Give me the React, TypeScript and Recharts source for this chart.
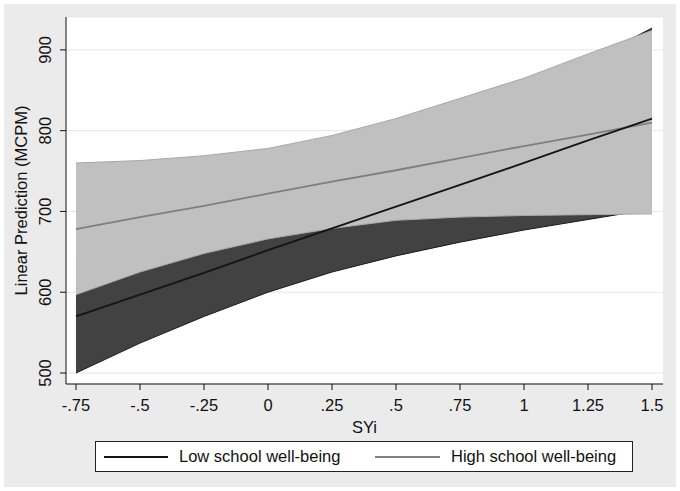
import React from 'react';
import {
  ComposedChart,
  Area,
  Line,
  XAxis,
  YAxis,
  CartesianGrid,
} from 'recharts';

// SYi evaluation points
const syValues = [-0.75, -0.5, -0.25, 0, 0.25, 0.5, 0.75, 1, 1.25, 1.5];

// Low school well-being: fit + 95% CI
const lowFit = [570, 597, 624, 652, 679, 706, 733, 760, 788, 815];
const lowLower = [500, 537, 570, 600, 625, 645, 662, 677, 690, 703];
const lowUpper = [640, 657, 678, 704, 733, 767, 804, 843, 886, 927];

// High school well-being: fit + 95% CI
const highFit = [678, 693, 707, 722, 737, 751, 766, 781, 795, 810];
const highLower = [597, 625, 648, 666, 679, 689, 693, 695, 696, 697];
const highUpper = [760, 763, 769, 778, 794, 815, 840, 865, 895, 924];

const xTicks = [-0.75, -0.5, -0.25, 0, 0.25, 0.5, 0.75, 1, 1.25, 1.5];
const yTicks = [500, 600, 700, 800, 900];

const FONT = '"Liberation Sans", Arial, sans-serif';
const FS = 16.5;

const data = syValues.map((sy, i) => ({
  sy,
  lowBand: [lowLower[i], lowUpper[i]],
  highBand: [highLower[i], highUpper[i]],
  lowFit: lowFit[i],
  highFit: highFit[i],
}));

const fmtX = (v: number) => String(v).replace('0.', '.');

const YTick = ({ x, y, payload }: any) => (
  <text
    x={x}
    y={y}
    transform={`rotate(-90 ${x} ${y})`}
    textAnchor="middle"
    dy="0.35em"
    fontSize={FS}
    fontFamily={FONT}
    fill="#111"
  >
    {payload.value}
  </text>
);

const XTick = ({ x, y, payload }: any) => (
  <text x={x} y={y} textAnchor="middle" dy="0.71em" fontSize={FS} fontFamily={FONT} fill="#111">
    {fmtX(payload.value)}
  </text>
);

export default function App() {
  return (
    <div style={{ position: 'absolute', left: 0, top: 0, width: 680, height: 491, background: '#fff' }}>
      <div style={{ position: 'absolute', left: 4, top: 4, width: 672, height: 483, background: '#ebebeb' }}>
        <ComposedChart
          width={672}
          height={483}
          data={data}
          margin={{ top: 13, right: 13, bottom: 53, left: 12 }}
        >
          <CartesianGrid vertical={false} stroke="#e6e6e6" fill="#ffffff" />
          <XAxis
            type="number"
            dataKey="sy"
            domain={[-0.789, 1.543]}
            ticks={xTicks}
            allowDataOverflow
            height={50}
            tickSize={6}
            tickMargin={9}
            axisLine={{ stroke: '#111' }}
            tickLine={{ stroke: '#111' }}
            tick={<XTick />}
            label={{
              content: ({ viewBox }: any) => (
                <text
                  x={viewBox.x + viewBox.width / 2}
                  y={viewBox.y + 43}
                  textAnchor="middle"
                  dy="0.35em"
                  fontSize={FS}
                  fontFamily={FONT}
                  fill="#111"
                >
                  SYi
                </text>
              ),
            }}
          />
          <YAxis
            type="number"
            domain={[486.4, 940.7]}
            ticks={yTicks}
            allowDataOverflow
            width={50}
            tickSize={6}
            tickMargin={14.5}
            axisLine={{ stroke: '#111' }}
            tickLine={{ stroke: '#111' }}
            tick={<YTick />}
            label={{
              content: ({ viewBox }: any) => {
                const cx = viewBox.x + 5;
                const cy = viewBox.y + viewBox.height / 2;
                return (
                  <text
                    x={cx}
                    y={cy}
                    transform={`rotate(-90 ${cx} ${cy})`}
                    textAnchor="middle"
                    dy="0.35em"
                    fontSize={FS}
                    fontFamily={FONT}
                    fill="#111"
                  >
                    Linear Prediction (MCPM)
                  </text>
                );
              },
            }}
          />
          <Area
            type="linear"
            dataKey="lowBand"
            fill="#424242"
            fillOpacity={1}
            stroke="#1a1a1a"
            strokeWidth={1}
            isAnimationActive={false}
            activeDot={false}
          />
          <Area
            type="linear"
            dataKey="highBand"
            fill="#c0c0c0"
            fillOpacity={1}
            stroke="#a8a8a8"
            strokeWidth={1}
            isAnimationActive={false}
            activeDot={false}
          />
          <Line
            type="linear"
            dataKey="highFit"
            stroke="#7f7f7f"
            strokeWidth={1.8}
            dot={false}
            isAnimationActive={false}
          />
          <Line
            type="linear"
            dataKey="lowFit"
            stroke="#141414"
            strokeWidth={1.8}
            dot={false}
            isAnimationActive={false}
          />
        </ComposedChart>
        <div
          style={{
            position: 'absolute',
            left: 91,
            top: 437,
            width: 538,
            height: 31,
            boxSizing: 'border-box',
            background: '#fff',
            border: '1.5px solid #222',
            fontFamily: FONT,
            fontSize: FS,
            color: '#111',
          }}
        >
          <div style={{ position: 'absolute', left: 8, top: 14, width: 64, height: 2, background: '#141414' }} />
          <div style={{ position: 'absolute', left: 83, top: 0, lineHeight: '29px', whiteSpace: 'nowrap' }}>
            Low school well-being
          </div>
          <div style={{ position: 'absolute', left: 279, top: 14, width: 65, height: 2, background: '#7f7f7f' }} />
          <div style={{ position: 'absolute', left: 355, top: 0, lineHeight: '29px', whiteSpace: 'nowrap' }}>
            High school well-being
          </div>
        </div>
      </div>
    </div>
  );
}
